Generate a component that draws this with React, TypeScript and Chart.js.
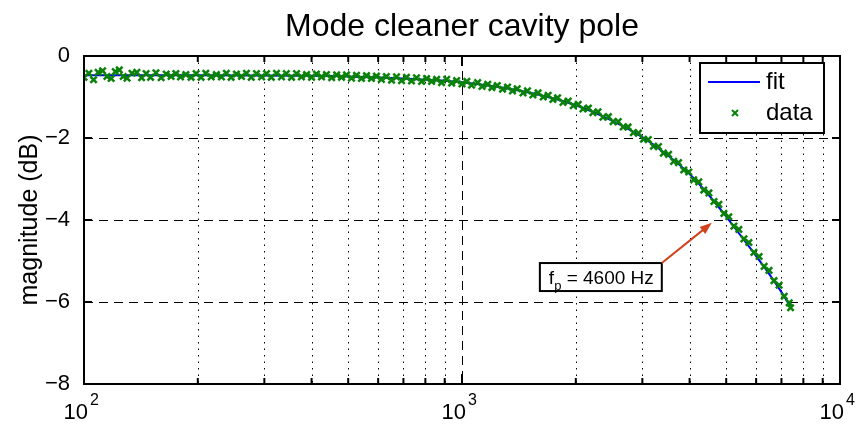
import { useEffect, useRef } from 'react';
import { Chart, registerables } from 'chart.js';

Chart.register(...registerables);

// ---- data ----
const FREQ_HZ = [
  100, 103, 106, 109, 112, 115, 118, 121, 124, 127, 130, 134, 138, 142, 146, 150, 155, 160, 165, 170,
  175, 180, 186, 192, 198, 204, 210, 217, 224, 231, 238, 245, 253, 261, 269, 277, 286, 295, 304, 313,
  323, 333, 343, 354, 365, 376, 388, 400, 412, 425, 438, 452, 466, 480, 495, 510, 526, 542, 559, 576,
  594, 612, 631, 651, 671, 692, 713, 735, 758, 782, 806, 831, 857, 883, 911, 939, 968, 1000, 1030, 1060,
  1100, 1130, 1170, 1200, 1240, 1280, 1320, 1360, 1400, 1450, 1490, 1540, 1590, 1640, 1690, 1740, 1790, 1850, 1910, 1970,
  2030, 2090, 2160, 2220, 2290, 2360, 2440, 2510, 2590, 2670, 2750, 2840, 2930, 3020, 3110, 3210, 3310, 3410, 3520, 3630,
  3740, 3860, 3980, 4100, 4230, 4360, 4500, 4640, 4780, 4930, 5080, 5240, 5400, 5570, 5740, 5920, 6110, 6300, 6490, 6690,
  6900, 7120, 7340, 7400,
];
const MAG_DB = [
  -0.52, -0.42, -0.58, -0.40, -0.36, -0.50, -0.55, -0.38, -0.34, -0.50, -0.54, -0.42, -0.40, -0.53, -0.43, -0.52, -0.41, -0.53, -0.44, -0.50,
  -0.43, -0.51, -0.45, -0.52, -0.43, -0.52, -0.42, -0.51, -0.45, -0.51, -0.42, -0.52, -0.44, -0.50, -0.42, -0.52, -0.43, -0.51, -0.43, -0.52,
  -0.42, -0.51, -0.43, -0.52, -0.43, -0.51, -0.45, -0.52, -0.44, -0.51, -0.45, -0.53, -0.46, -0.52, -0.46, -0.54, -0.47, -0.55, -0.48, -0.55,
  -0.49, -0.57, -0.50, -0.59, -0.51, -0.60, -0.52, -0.61, -0.53, -0.62, -0.55, -0.62, -0.57, -0.65, -0.57, -0.66, -0.60, -0.68, -0.62, -0.71,
  -0.65, -0.74, -0.69, -0.77, -0.72, -0.81, -0.76, -0.85, -0.80, -0.90, -0.85, -0.95, -0.90, -1.00, -0.96, -1.06, -1.02, -1.13, -1.10, -1.21,
  -1.18, -1.29, -1.27, -1.38, -1.36, -1.49, -1.48, -1.60, -1.60, -1.73, -1.73, -1.87, -1.88, -2.03, -2.04, -2.20, -2.21, -2.37, -2.40, -2.57,
  -2.60, -2.78, -2.83, -3.02, -3.07, -3.27, -3.34, -3.55, -3.62, -3.84, -3.92, -4.15, -4.23, -4.46, -4.55, -4.79, -4.89, -5.13, -5.23, -5.48,
  -5.59, -5.86, -6.02, -6.14,
];
const FIT_FREQ_HZ = [100, 200, 400, 700, 1000, 1500, 2000, 2500, 3000, 3500, 4000, 4600, 5000, 5500, 6000, 6500, 7000, 7400];
const FIT_MAG_DB = [-0.47, -0.47, -0.48, -0.55, -0.64, -0.89, -1.2, -1.58, -1.98, -2.42, -2.88, -3.5, -3.92, -4.42, -4.88, -5.32, -5.76, -6.12];

const Y_TICKS = [0, -2, -4, -6, -8];
const Y_GRID = [-2, -4, -6];
const X_DECADES = [100, 1000, 10000];
const X_EXPONENTS = ['2', '3', '4'];
const X_MINOR = [200, 300, 400, 500, 600, 700, 800, 900, 2000, 3000, 4000, 5000, 6000, 7000, 8000, 9000];

const TITLE = 'Mode cleaner cavity pole';
const Y_LABEL = 'magnitude (dB)';
const LEGEND_LABELS = ['fit', 'data'];
const POLE_TEXT = ' = 4600 Hz';

// annotation anchors in data space
const ARROW_TIP = { f: 4580, db: -4.07 };
const BOX_TOP_LEFT = { f: 1607, db: -5.05 };

const FONT = '"Liberation Sans", Arial, Helvetica, sans-serif';
const DATA_GREEN = '#0a820a';
const FIT_BLUE = '#0000ff';

function line(ctx: CanvasRenderingContext2D, x1: number, y1: number, x2: number, y2: number) {
  ctx.beginPath();
  ctx.moveTo(x1, y1);
  ctx.lineTo(x2, y2);
  ctx.stroke();
}

const matlabPlugin = {
  id: 'matlabLook',
  beforeDatasetsDraw(chart: any) {
    const { ctx, chartArea: a } = chart;
    const x = chart.scales.x;
    const y = chart.scales.y;
    ctx.save();
    ctx.strokeStyle = '#000';
    ctx.lineWidth = 1;
    ctx.setLineDash([1.5, 5]);
    X_MINOR.forEach((v) => {
      const px = Math.round(x.getPixelForValue(v)) + 0.5;
      line(ctx, px, a.top, px, a.bottom);
    });
    ctx.setLineDash([9, 6]);
    X_DECADES.slice(1, -1).forEach((v) => {
      const px = Math.round(x.getPixelForValue(v)) + 0.5;
      line(ctx, px, a.top, px, a.bottom);
    });
    Y_GRID.forEach((v) => {
      const py = Math.round(y.getPixelForValue(v)) + 0.5;
      line(ctx, a.left, py, a.right, py);
    });
    ctx.restore();
  },
  afterDatasetsDraw(chart: any) {
    const { ctx, chartArea: a } = chart;
    const x = chart.scales.x;
    const y = chart.scales.y;
    ctx.save();
    ctx.setLineDash([]);
    ctx.strokeStyle = '#000';

    // ticks (inward)
    ctx.lineWidth = 2;
    X_MINOR.forEach((v) => {
      const px = x.getPixelForValue(v);
      line(ctx, px, a.top, px, a.top + 6);
      line(ctx, px, a.bottom, px, a.bottom - 6);
    });
    X_DECADES.forEach((v) => {
      const px = x.getPixelForValue(v);
      line(ctx, px, a.top, px, a.top + 10);
      line(ctx, px, a.bottom, px, a.bottom - 10);
    });
    Y_TICKS.forEach((v) => {
      const py = y.getPixelForValue(v);
      line(ctx, a.left, py, a.left + 8, py);
      line(ctx, a.right, py, a.right - 8, py);
    });

    // box
    ctx.lineWidth = 2;
    ctx.strokeRect(a.left, a.top, a.right - a.left, a.bottom - a.top);

    // x tick labels 10^n
    ctx.fillStyle = '#000';
    X_DECADES.forEach((v, i) => {
      const px = x.getPixelForValue(v);
      ctx.font = `22px ${FONT}`;
      ctx.textAlign = 'right';
      ctx.textBaseline = 'alphabetic';
      ctx.fillText('10', px + 4, a.bottom + 35);
      ctx.font = `16px ${FONT}`;
      ctx.textAlign = 'left';
      ctx.fillText(X_EXPONENTS[i], px + 6, a.bottom + 21);
    });

    // title
    ctx.font = `32px ${FONT}`;
    ctx.textAlign = 'center';
    ctx.textBaseline = 'middle';
    ctx.fillText(TITLE, (a.left + a.right) / 2, 27);

    // y label
    ctx.save();
    ctx.translate(30, (a.top + a.bottom) / 2);
    ctx.rotate(-Math.PI / 2);
    ctx.font = `25px ${FONT}`;
    ctx.textAlign = 'center';
    ctx.textBaseline = 'middle';
    ctx.fillText(Y_LABEL, 0, 0);
    ctx.restore();

    // legend
    const lr = a.right - 16;
    const ll = lr - 124;
    const lt = a.top + 7;
    ctx.fillStyle = '#fff';
    ctx.fillRect(ll, lt, lr - ll, 70);
    ctx.lineWidth = 2;
    ctx.strokeStyle = '#000';
    ctx.strokeRect(ll, lt, lr - ll, 70);
    ctx.strokeStyle = FIT_BLUE;
    line(ctx, ll + 8, lt + 19, ll + 60, lt + 19);
    ctx.strokeStyle = DATA_GREEN;
    const mx = ll + 35;
    const my = lt + 50;
    line(ctx, mx - 3, my - 3, mx + 3, my + 3);
    line(ctx, mx - 3, my + 3, mx + 3, my - 3);
    ctx.fillStyle = '#000';
    ctx.font = `24px ${FONT}`;
    ctx.textAlign = 'left';
    ctx.textBaseline = 'middle';
    ctx.fillText(LEGEND_LABELS[0], ll + 66, lt + 19);
    ctx.fillText(LEGEND_LABELS[1], ll + 66, lt + 50);

    // annotation box
    const bx = x.getPixelForValue(BOX_TOP_LEFT.f);
    const by = y.getPixelForValue(BOX_TOP_LEFT.db);
    ctx.font = `19px ${FONT}`;
    const wf = ctx.measureText('f').width;
    ctx.font = `13px ${FONT}`;
    const wp = ctx.measureText('p').width;
    ctx.font = `19px ${FONT}`;
    const wr = ctx.measureText(POLE_TEXT).width;
    const bw = 9 + wf + wp + wr + 8;
    const bh = 28;
    ctx.fillStyle = '#fff';
    ctx.fillRect(bx, by, bw, bh);
    ctx.strokeStyle = '#000';
    ctx.lineWidth = 2;
    ctx.strokeRect(bx, by, bw, bh);
    ctx.fillStyle = '#000';
    ctx.textAlign = 'left';
    ctx.textBaseline = 'alphabetic';
    ctx.font = `19px ${FONT}`;
    ctx.fillText('f', bx + 9, by + 21);
    ctx.font = `13px ${FONT}`;
    ctx.fillText('p', bx + 9 + wf, by + 27);
    ctx.font = `19px ${FONT}`;
    ctx.fillText(POLE_TEXT, bx + 9 + wf + wp, by + 21);

    // arrow
    const tx = x.getPixelForValue(ARROW_TIP.f);
    const ty = y.getPixelForValue(ARROW_TIP.db);
    const sx = bx + bw;
    const sy = by;
    const ang = Math.atan2(ty - sy, tx - sx);
    const red = '#d2401c';
    ctx.strokeStyle = red;
    ctx.fillStyle = red;
    ctx.lineWidth = 2;
    line(ctx, sx, sy, tx - 8 * Math.cos(ang), ty - 8 * Math.sin(ang));
    ctx.beginPath();
    ctx.moveTo(tx, ty);
    ctx.lineTo(tx - 12 * Math.cos(ang) + 4.5 * Math.sin(ang), ty - 12 * Math.sin(ang) - 4.5 * Math.cos(ang));
    ctx.lineTo(tx - 12 * Math.cos(ang) - 4.5 * Math.sin(ang), ty - 12 * Math.sin(ang) + 4.5 * Math.cos(ang));
    ctx.closePath();
    ctx.fill();

    ctx.restore();
  },
};

export default function App() {
  const canvasRef = useRef<HTMLCanvasElement | null>(null);

  useEffect(() => {
    const canvas = canvasRef.current;
    if (!canvas) return;
    const chart = new Chart(canvas, {
      type: 'scatter',
      data: {
        datasets: [
          {
            label: LEGEND_LABELS[1],
            data: FREQ_HZ.map((f, i) => ({ x: f, y: MAG_DB[i] })),
            pointStyle: 'crossRot',
            pointRadius: 4.5,
            pointBorderWidth: 2.5,
            borderColor: DATA_GREEN,
            backgroundColor: DATA_GREEN,
            showLine: false,
          },
          {
            label: LEGEND_LABELS[0],
            data: FIT_FREQ_HZ.map((f, i) => ({ x: f, y: FIT_MAG_DB[i] })),
            showLine: true,
            borderColor: FIT_BLUE,
            borderWidth: 2,
            pointRadius: 0,
            cubicInterpolationMode: 'monotone',
          },
        ],
      },
      options: {
        animation: false,
        responsive: true,
        maintainAspectRatio: false,
        layout: { padding: { top: 56, right: 20, left: 0, bottom: 0 } },
        plugins: {
          legend: { display: false },
          title: { display: false },
          tooltip: { enabled: false },
        },
        scales: {
          x: {
            type: 'logarithmic',
            min: 100,
            max: 10000,
            grid: { display: false },
            border: { display: false },
            ticks: { display: false },
            afterFit: (s: any) => {
              s.height = 45;
            },
          },
          y: {
            type: 'linear',
            min: -8,
            max: 0,
            grid: { display: false },
            border: { display: false },
            ticks: {
              stepSize: 2,
              padding: 6,
              color: '#000',
              font: { size: 22, family: FONT },
              callback: (v: any) => String(v).replace('-', '\u2212'),
            },
            afterFit: (s: any) => {
              s.width = 84;
            },
          },
        },
      },
      plugins: [matlabPlugin],
    });
    return () => chart.destroy();
  }, []);

  return (
    <div style={{ position: 'fixed', left: 0, top: 0, width: 860, height: 429, background: '#fff' }}>
      <canvas ref={canvasRef} />
    </div>
  );
}
